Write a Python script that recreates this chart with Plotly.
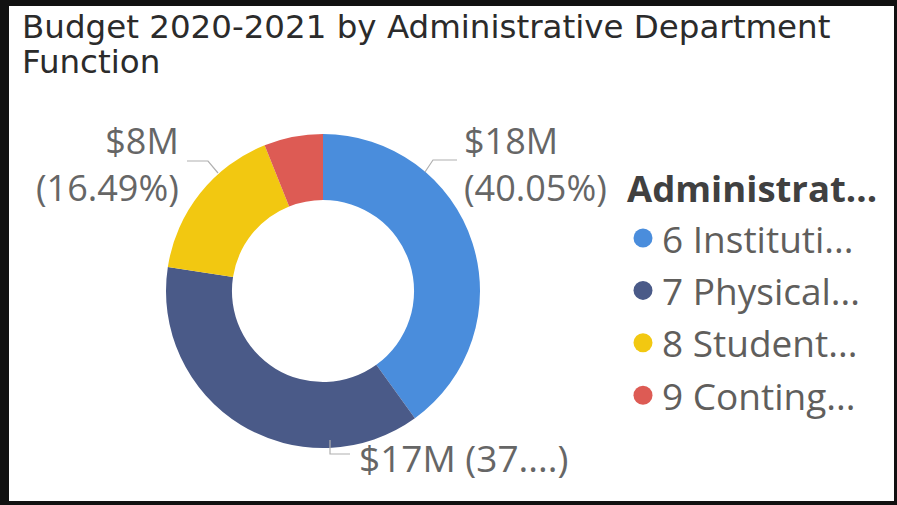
import plotly.graph_objects as go

# ---- data ----
title_lines = ["Budget 2020-2021 by Administrative Department", "Function"]
legend_title = "Administrat..."
categories = ["6 Instituti...", "7 Physical...", "8 Student...", "9 Conting..."]
values_musd = [18.43, 17.21, 7.59, 2.79]   # $ millions
colors = ["#4A8DDC", "#4A5A88", "#F2C811", "#DD5B54"]

W, H = 897, 505
total = sum(values_musd)
pcts = [v / total * 100 for v in values_musd]

def px(x):
    return x / W

def py(y):
    return 1 - y / H

fig = go.Figure()

# donut
cx, cy, r = 323, 291, 157
fig.add_trace(go.Pie(
    labels=categories, values=values_musd, sort=False, direction="clockwise",
    rotation=0, hole=0.58, textinfo="none", hoverinfo="label+value+percent",
    marker=dict(colors=colors, line=dict(width=0)), showlegend=False,
    domain=dict(x=[px(cx - r), px(cx + r)], y=[py(cy + r), py(cy - r)]),
))

# legend markers drawn as scatter on a hidden pixel axis
leg_x = 643
leg_y0, leg_step = 238, 52.4
leg_ys = [leg_y0 + i * leg_step for i in range(len(categories))]
fig.add_trace(go.Scatter(
    x=[leg_x] * len(categories), y=leg_ys, mode="markers",
    marker=dict(size=19, color=colors, symbol="circle"),
    showlegend=False, hoverinfo="skip", cliponaxis=False,
))

label_font = dict(family="Open Sans", size=36, color="#666666")
lbl = [f"${round(v)}M<br>({p:.2f}%)" for v, p in zip(values_musd, pcts)]
title_font = dict(family="DejaVu Sans", size=32.5, color="#2B2B2B")
annotations = [
    dict(text=lbl[0], x=px(462), y=py(164), xanchor="left", yanchor="middle", align="left"),
    dict(text=f"${round(values_musd[1])}M ({pcts[1]:.0f}....)", x=px(357), y=py(457),
         xanchor="left", yanchor="middle", align="left",
         font=dict(family="Open Sans", size=37, color="#666666")),
    dict(text=lbl[2], x=px(181), y=py(164), xanchor="right", yanchor="middle", align="right"),
    dict(text=title_lines[0], x=px(20), y=py(27), xanchor="left", yanchor="middle", align="left",
         font=title_font),
    dict(text=title_lines[1], x=px(20), y=py(62), xanchor="left", yanchor="middle", align="left",
         font=title_font),
    dict(text=f"<b>{legend_title}</b>", x=px(625), y=py(188), xanchor="left", yanchor="middle",
         font=dict(family="Open Sans", size=36.5, color="#404040")),
]
for cat, yy in zip(categories, leg_ys):
    annotations.append(dict(text=cat, x=px(660), y=py(yy), xanchor="left", yanchor="middle",
                            font=dict(family="Open Sans", size=37, color="#605E5C")))
for a in annotations:
    a.setdefault("font", label_font)
    a.update(xref="paper", yref="paper", showarrow=False)

line_col = "#B0B0B0"
shapes = [
    dict(type="rect", xref="paper", yref="paper", x0=px(9), x1=px(894), y0=py(501), y1=py(6),
         fillcolor="white", line=dict(width=0), layer="below"),
    dict(type="path", xref="paper", yref="paper",
         path=f"M {px(425)} {py(172)} L {px(433)} {py(160)} L {px(457)} {py(160)}",
         line=dict(color=line_col, width=1.2)),
    dict(type="path", xref="paper", yref="paper",
         path=f"M {px(218)} {py(173)} L {px(208)} {py(161)} L {px(187)} {py(161)}",
         line=dict(color=line_col, width=1.2)),
    dict(type="path", xref="paper", yref="paper",
         path=f"M {px(330)} {py(440)} L {px(330)} {py(454)} L {px(350)} {py(454)}",
         line=dict(color=line_col, width=1.2)),
]

fig.update_layout(
    width=W, height=H, margin=dict(l=0, r=0, t=0, b=0),
    paper_bgcolor="#111111", plot_bgcolor="rgba(0,0,0,0)",
    xaxis=dict(range=[0, W], visible=False, domain=[0, 1], fixedrange=True),
    yaxis=dict(range=[H, 0], visible=False, domain=[0, 1], fixedrange=True),
    annotations=annotations, shapes=shapes,
)

fig.write_html("out.html", config={"displayModeBar": False},
               post_script="document.body.style.margin='0';")
